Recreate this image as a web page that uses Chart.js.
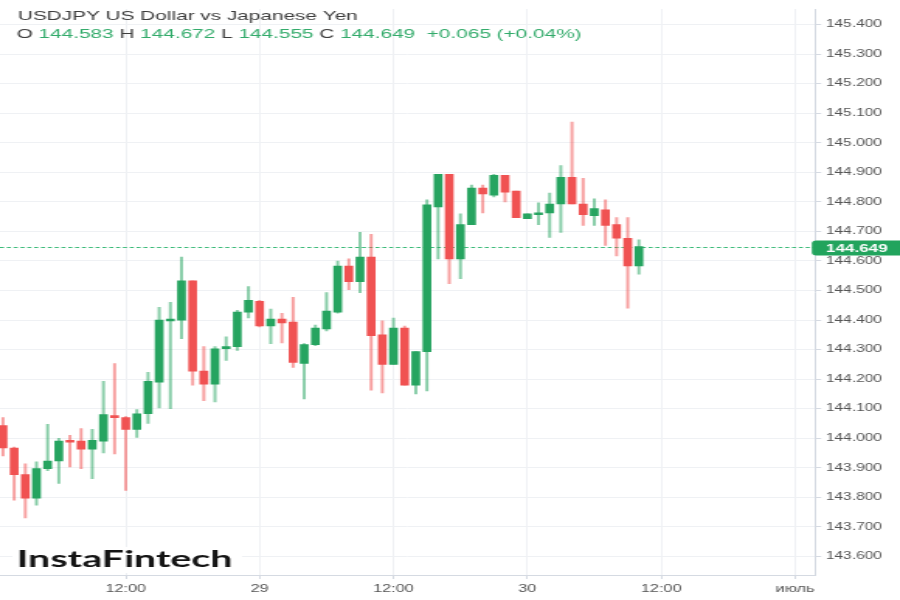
<!DOCTYPE html>
<html>
<head>
<meta charset="utf-8">
<title>USDJPY US Dollar vs Japanese Yen</title>
<script src="https://cdn.jsdelivr.net/npm/chart.js@4.4.1/dist/chart.umd.min.js"></script>
<style>
  html, body { margin: 0; padding: 0; background: #fff; overflow: hidden; }
  /* the source picture is stretched sideways, so the whole chart is too */
  #wrap { width: 580px; height: 600px; transform: scaleX(1.5517); transform-origin: 0 0; }
</style>
</head>
<body>
<div id="wrap"><canvas id="chart"></canvas></div>
<script>
// ===============================
// DATA (hourly candles, hour 1 = 28 Jun 01:00)
// ===============================
const hours = [1, 2, 3, 4, 5, 6, 7, 8, 9, 10, 11, 12, 13, 14, 15, 16, 17, 18, 19, 20,
  21, 22, 23, 24, 25, 26, 27, 28, 29, 30, 31, 32, 33, 34, 35, 36, 37, 38, 39, 40,
  41, 42, 43, 44, 45, 46, 47, 48, 49, 50, 51, 52, 53, 54, 55, 56, 57, 58];

const opens = [144.043, 143.967, 143.877, 143.797, 143.897, 143.923, 143.993, 143.990, 143.963, 143.990,
  144.077, 144.070, 144.030, 144.083, 144.190, 144.397, 144.400, 144.533, 144.227, 144.183,
  144.303, 144.310, 144.427, 144.463, 144.380, 144.403, 144.393, 144.253, 144.317, 144.370,
  144.427, 144.583, 144.530, 144.613, 144.350, 144.250, 144.373, 144.180, 144.293, 144.783,
  144.893, 144.607, 144.723, 144.847, 144.823, 144.890, 144.837, 144.743, 144.757, 144.763,
  144.793, 144.883, 144.793, 144.753, 144.773, 144.723, 144.677, 144.583];

const highs = [144.070, 143.970, 143.913, 143.920, 144.047, 144.000, 144.010, 144.033, 144.030, 144.193,
  144.253, 144.073, 144.097, 144.223, 144.443, 144.460, 144.613, 144.533, 144.310, 144.310,
  144.343, 144.433, 144.513, 144.467, 144.437, 144.423, 144.477, 144.320, 144.383, 144.493,
  144.600, 144.607, 144.697, 144.690, 144.397, 144.407, 144.380, 144.293, 144.807, 144.893,
  144.893, 144.760, 144.857, 144.857, 144.893, 144.890, 144.837, 144.760, 144.797, 144.830,
  144.923, 145.070, 144.880, 144.810, 144.807, 144.747, 144.747, 144.672];

const lows = [143.940, 143.790, 143.730, 143.773, 143.890, 143.847, 143.903, 143.897, 143.863, 143.950,
  143.947, 143.823, 144.003, 144.050, 144.103, 144.100, 144.337, 144.180, 144.127, 144.123,
  144.263, 144.297, 144.407, 144.377, 144.320, 144.323, 144.240, 144.133, 144.313, 144.363,
  144.423, 144.503, 144.493, 144.163, 144.153, 144.250, 144.180, 144.150, 144.160, 144.607,
  144.523, 144.540, 144.723, 144.763, 144.817, 144.800, 144.747, 144.743, 144.723, 144.680,
  144.697, 144.793, 144.720, 144.720, 144.653, 144.617, 144.440, 144.555];

const closes = [143.967, 143.877, 143.797, 143.897, 143.923, 143.990, 143.987, 143.963, 143.993, 144.080,
  144.070, 144.030, 144.083, 144.193, 144.400, 144.403, 144.533, 144.227, 144.183, 144.303,
  144.310, 144.427, 144.467, 144.380, 144.403, 144.390, 144.257, 144.317, 144.373, 144.430,
  144.583, 144.530, 144.613, 144.347, 144.250, 144.373, 144.180, 144.293, 144.790, 144.893,
  144.607, 144.723, 144.847, 144.827, 144.890, 144.833, 144.747, 144.760, 144.763, 144.793,
  144.883, 144.793, 144.757, 144.777, 144.720, 144.677, 144.583, 144.649];

const yTicks = [143.6, 143.7, 143.8, 143.9, 144.0, 144.1, 144.2, 144.3, 144.4, 144.5,
  144.6, 144.7, 144.8, 144.9, 145.0, 145.1, 145.2, 145.3, 145.4];

const xTickHours = [12, 24, 36, 48, 60, 72];
const xTickLabels = ["12:00", "29", "12:00", "30", "12:00", "июль"];

const title = "USDJPY US Dollar vs Japanese Yen";
const ohlcLine = [
  ["O ", "dark"], ["144.583 ", "green"],
  ["H ", "dark"], ["144.672 ", "green"],
  ["L ", "dark"], ["144.555 ", "green"],
  ["C ", "dark"], ["144.649  +0.065 (+0.04%)", "green"]
];
const lastPrice = 144.649;

// ===============================
// STYLE
// ===============================
const UP = "#26a460";
const DOWN = "#f05252";
const UP_WICK = "rgba(38,164,96,0.55)";
const DOWN_WICK = "rgba(240,82,82,0.55)";
const FONT = "'Liberation Sans', Arial, sans-serif";

const isUp = closes.map((c, i) => c >= opens[i]);

// ===============================
// OVERLAY: price line, price tag, header, watermark
// ===============================
const overlay = {
  id: "overlay",
  beforeDatasetsDraw(chart) {
    const { ctx, chartArea, scales } = chart;
    const y = Math.round(scales.y.getPixelForValue(lastPrice)) + 0.5;
    ctx.save();
    ctx.strokeStyle = "#3dbb7a";
    ctx.lineWidth = 1.2;
    ctx.setLineDash([2.6, 1.8]);
    ctx.beginPath();
    ctx.moveTo(chartArea.left, y);
    ctx.lineTo(chartArea.right, y);
    ctx.stroke();
    ctx.restore();
  },
  afterDraw(chart) {
    const { ctx, chartArea, scales } = chart;
    ctx.save();

    // price tag on the axis
    const y = scales.y.getPixelForValue(lastPrice) + 1.5;
    ctx.fillStyle = "#22a45d";
    ctx.beginPath();
    ctx.roundRect(chartArea.right - 2, y - 7.5, 62, 15, 3);
    ctx.fill();
    ctx.fillStyle = "#fff";
    ctx.font = "bold 11px " + FONT;
    ctx.textAlign = "center";
    ctx.textBaseline = "middle";
    ctx.fillText(lastPrice.toFixed(3), chartArea.right + 27, y + 0.5);

    // header
    ctx.textAlign = "left";
    ctx.textBaseline = "alphabetic";
    ctx.font = "13.4px " + FONT;
    ctx.fillStyle = "#3d3d3d";
    ctx.fillText(title, 11.5, 19.5);

    let x = 10.7;
    ohlcLine.forEach(([txt, kind]) => {
      ctx.fillStyle = kind === "green" ? "#33ab6b" : "#3d3d3d";
      ctx.fillText(txt, x, 38);
      x += ctx.measureText(txt).width;
    });

    // watermark
    ctx.fillStyle = "#fff";
    ctx.fillRect(8, 547, 148, 26);
    ctx.font = "bold 22px Lato, 'Open Sans', sans-serif";
    const w = ctx.measureText("InstaFintech").width;
    ctx.translate(10.8, 567);
    ctx.scale(139 / w, 1);
    ctx.fillStyle = "#151515";
    ctx.fillText("InstaFintech", 0, 0);

    ctx.restore();
  }
};

// ===============================
// CHART
// ===============================
const ctx = document.getElementById("chart").getContext("2d");

new Chart(ctx, {
  type: "bar",
  data: {
    datasets: [
      {
        label: "body",
        order: 0,
        data: hours.map((h, i) => ({ x: h, y: [opens[i], closes[i]] })),
        backgroundColor: isUp.map(u => (u ? UP : DOWN)),
        barThickness: 5,
        minBarLength: 1.2,
        grouped: false,
        borderWidth: 0
      },
      {
        label: "wick",
        order: 1,
        data: hours.map((h, i) => ({ x: h, y: [lows[i], highs[i]] })),
        backgroundColor: isUp.map(u => (u ? UP_WICK : DOWN_WICK)),
        barThickness: 1.3,
        grouped: false,
        borderWidth: 0
      }
    ]
  },
  options: {
    responsive: true,
    maintainAspectRatio: false,
    animation: false,
    layout: { padding: 0 },
    plugins: {
      legend: { display: false },
      tooltip: { enabled: false }
    },
    scales: {
      x: {
        type: "linear",
        offset: false,
        min: 0.731,
        max: 73.78,
        grid: { color: "#eff1f4", offset: false, tickLength: 4, tickColor: "#d5dae2" },
        border: { color: "#d5dae2" },
        afterBuildTicks: s => { s.ticks = xTickHours.map(v => ({ value: v })); },
        afterFit: s => { s.height = 25; },
        ticks: {
          autoSkip: false,
          maxRotation: 0,
          padding: 3.5,
          color: "#555",
          font: { family: FONT, size: 10.5 },
          callback: v => xTickLabels[xTickHours.indexOf(v)]
        }
      },
      y: {
        position: "right",
        beginAtZero: false,
        min: 143.537,
        max: 145.453,
        grid: { color: "#eff1f4", tickLength: 4, tickColor: "#d5dae2" },
        border: { color: "#d5dae2" },
        afterBuildTicks: s => { s.ticks = yTicks.map(v => ({ value: v })); },
        afterFit: s => { s.width = 54.8; },
        ticks: {
          padding: 3,
          color: "#555",
          font: { family: FONT, size: 10 },
          callback: v => v.toFixed(3)
        }
      }
    }
  },
  plugins: [overlay]
});
</script>
</body>
</html>
